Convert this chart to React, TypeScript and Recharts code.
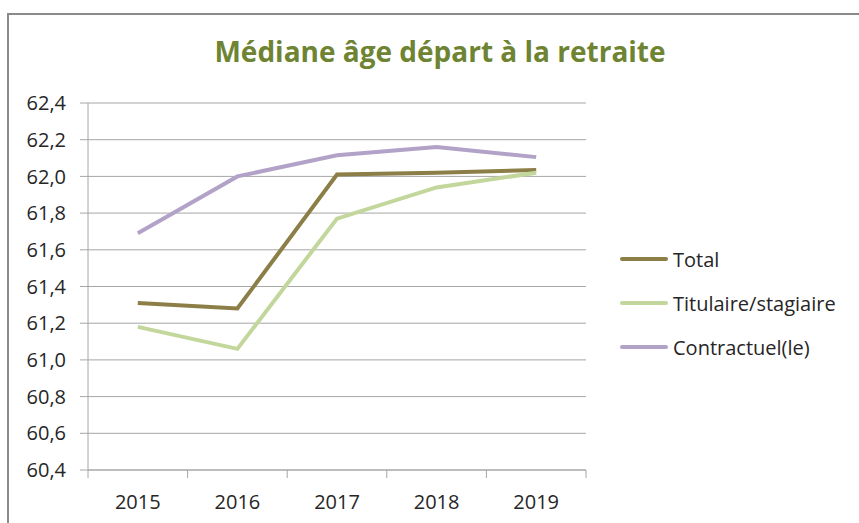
import React from 'react';
import { LineChart, Line, XAxis, YAxis, CartesianGrid } from 'recharts';

const years = ['2015', '2016', '2017', '2018', '2019'];
const totalValues = [61.31, 61.28, 62.01, 62.02, 62.035];
const titulaireValues = [61.18, 61.06, 61.77, 61.94, 62.02];
const contractuelValues = [61.69, 62.0, 62.115, 62.16, 62.105];
const yTicks = [60.4, 60.6, 60.8, 61.0, 61.2, 61.4, 61.6, 61.8, 62.0, 62.2, 62.4];

const seriesNames = ['Total', 'Titulaire/stagiaire', 'Contractuel(le)'];
const seriesColors = ['#8C7E47', '#C3D69B', '#B3A2C7'];

const data = years.map((y, i) => ({
  year: y,
  total: totalValues[i],
  titulaire: titulaireValues[i],
  contractuel: contractuelValues[i],
}));

const W = 859;
const H = 523;
const M = { top: 103, right: 273, bottom: 0, left: 0 };
const Y_AXIS_W = 88;
const X_AXIS_H = 53;
const PLOT_W = W - M.left - M.right - Y_AXIS_W;
const BAND = PLOT_W / years.length;
const FONT = "'Open Sans', 'Noto Sans', sans-serif";
const GRID = '#A6A6A6';

const fmt = (v: number) => v.toFixed(1).replace('.', ',');

const XTick = (props: any) => {
  const { x, y, payload, index } = props;
  const half = BAND / 2;
  return (
    <g>
      <line x1={x - half} y1={y} x2={x - half} y2={y + 8} stroke={GRID} strokeWidth={1} />
      {index === years.length - 1 && (
        <line x1={x + half} y1={y} x2={x + half} y2={y + 8} stroke={GRID} strokeWidth={1} />
      )}
      <text x={x} y={y + 39} textAnchor="middle" fontFamily={FONT} fontSize={20} fill="#262626">
        {payload.value}
      </text>
    </g>
  );
};

const LegendBox = () => (
  <div style={{ position: 'absolute', left: 620, top: 237, fontFamily: FONT, fontSize: 20, color: '#262626' }}>
    {seriesNames.map((n, i) => (
      <div key={n} style={{ display: 'flex', alignItems: 'center', height: 44 }}>
        <div style={{ width: 48, height: 4, background: seriesColors[i], borderRadius: 2, marginRight: 5 }} />
        <span>{n}</span>
      </div>
    ))}
  </div>
);

export default function App() {
  return (
    <div style={{ position: 'absolute', left: 0, top: 0, width: W, height: H, background: '#fff', overflow: 'hidden' }}>
      <div
        style={{
          position: 'absolute',
          left: 7,
          top: 13,
          width: W - 7,
          height: H - 13,
          borderTop: '2px solid #8A8A8A',
          borderLeft: '2px solid #8A8A8A',
          boxSizing: 'border-box',
        }}
      />
      <div
        style={{
          position: 'absolute',
          left: 0,
          top: 31,
          width: 880,
          textAlign: 'center',
          fontFamily: FONT,
          fontWeight: 'bold',
          fontSize: 28,
          color: '#6E8433',
          lineHeight: '40px',
        }}
      >
        Médiane âge départ à la retraite
      </div>
      <div style={{ position: 'absolute', left: 0, top: 0 }}>
        <LineChart width={W} height={H} data={data} margin={M}>
          <CartesianGrid vertical={false} stroke={GRID} strokeWidth={1} />
          <XAxis
            dataKey="year"
            height={X_AXIS_H}
            axisLine={{ stroke: GRID }}
            tickLine={false}
            tickSize={0}
            tickMargin={0}
            tick={<XTick />}
            interval={0}
            padding={{ left: BAND / 2, right: BAND / 2 }}
          />
          <YAxis
            width={Y_AXIS_W}
            domain={[60.4, 62.4]}
            ticks={yTicks}
            tickFormatter={fmt}
            axisLine={{ stroke: GRID }}
            tickLine={{ stroke: GRID }}
            tickSize={8}
            tickMargin={14}
            tick={{ fontFamily: FONT, fontSize: 20, fill: '#262626' }}
            interval={0}
          />
          <Line type="linear" dataKey="total" name={seriesNames[0]} stroke={seriesColors[0]} strokeWidth={4} dot={false} isAnimationActive={false} />
          <Line type="linear" dataKey="titulaire" name={seriesNames[1]} stroke={seriesColors[1]} strokeWidth={4} dot={false} isAnimationActive={false} />
          <Line type="linear" dataKey="contractuel" name={seriesNames[2]} stroke={seriesColors[2]} strokeWidth={4} dot={false} isAnimationActive={false} />
        </LineChart>
      </div>
      <LegendBox />
    </div>
  );
}
